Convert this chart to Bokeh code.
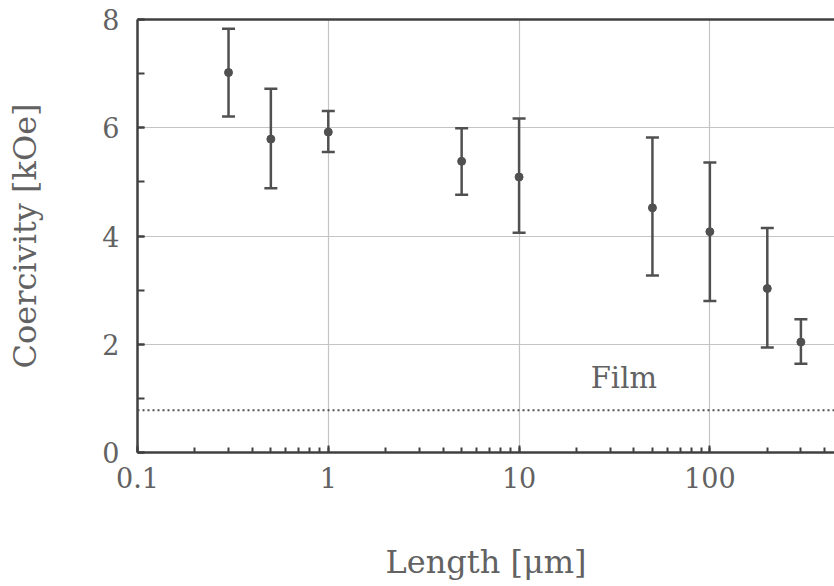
from bokeh.plotting import figure
from bokeh.models import (ColumnDataSource, Whisker, TeeHead, Span, LogAxis,
                          FixedTicker, SingleIntervalTicker, LogTicker, LogTickFormatter, Label)
from bokeh.embed import file_html
from bokeh.resources import INLINE

# ---- data ----
length_um = [0.3, 0.5, 1, 5, 10, 50, 100, 200, 300]
coercivity = [7.02, 5.79, 5.92, 5.38, 5.09, 4.52, 4.08, 3.03, 2.04]
err_upper = [7.83, 6.72, 6.31, 5.99, 6.17, 5.82, 5.36, 4.15, 2.46]
err_lower = [6.21, 4.88, 5.55, 4.76, 4.06, 3.27, 2.80, 1.94, 1.64]
film_level = 0.78
film_label = "Film"
x_label = "Length [\u03bcm]"
y_label = "Coercivity [kOe]"

FONT = "DejaVu Serif"
TEXT = "#626262"
AX = "#404040"
MARK = "#505050"

src = ColumnDataSource(dict(x=length_um, y=coercivity, up=err_upper, lo=err_lower))

p = figure(width=834, height=586, x_axis_type="log", x_range=(0.1, 450), y_range=(0, 8),
           output_backend="svg", toolbar_location=None,
           min_border_left=137, min_border_right=0, min_border_top=19, min_border_bottom=134)
p.outline_line_color = None
p.background_fill_color = "white"
p.border_fill_color = "white"

# grid
p.xgrid.grid_line_color = "#c4c4c4"
p.ygrid.grid_line_color = "#c4c4c4"
p.xgrid.grid_line_width = 1.2
p.ygrid.grid_line_width = 1.2

# axes
p.yaxis.ticker = SingleIntervalTicker(interval=2, num_minor_ticks=2)
p.xaxis.ticker = LogTicker(num_minor_ticks=10)
p.xaxis.formatter = LogTickFormatter(min_exponent=4)
for ax in (p.xaxis[0], p.yaxis[0]):
    ax.axis_line_color = AX
    ax.axis_line_width = 2.5
    ax.major_tick_line_color = AX
    ax.minor_tick_line_color = AX
    ax.major_tick_line_width = 2
    ax.minor_tick_line_width = 2
    ax.major_tick_out = 0
    ax.minor_tick_out = 0
    ax.major_label_text_font = FONT
    ax.major_label_text_font_size = "27px"
    ax.major_label_text_color = TEXT
    ax.axis_label_text_font = FONT
    ax.axis_label_text_font_size = "32px"
    ax.axis_label_text_font_style = "normal"
    ax.axis_label_text_color = TEXT
p.xaxis.major_tick_in = 7
p.xaxis.minor_tick_in = 5
p.yaxis.major_tick_in = 7
p.yaxis.minor_tick_in = 7
p.xaxis.major_label_standoff = 14
p.yaxis.major_label_standoff = 18
p.xaxis.axis_label = x_label
p.yaxis.axis_label = y_label
p.xaxis.axis_label_standoff = 52
p.yaxis.axis_label_standoff = 55

top = LogAxis(ticker=FixedTicker(ticks=[]), axis_line_color=AX, axis_line_width=2.5,
              major_tick_line_color=None, minor_tick_line_color=None,
              major_label_text_font_size="0px")
p.add_layout(top, "above")

# film level
p.add_layout(Span(location=film_level, dimension="width", line_color="#505050",
                  line_width=2, line_dash="2 3"))
p.add_layout(Label(x=35.4, y=1.37, text=film_label, text_align="center", text_baseline="middle",
                   text_font=FONT, text_font_size="29px", text_color=TEXT))

# error bars
w = Whisker(base="x", upper="up", lower="lo", source=src, line_color=MARK, line_width=2.5,
            upper_head=TeeHead(size=13, line_color=MARK, line_width=2.5),
            lower_head=TeeHead(size=13, line_color=MARK, line_width=2.5))
p.add_layout(w)
p.scatter("x", "y", source=src, size=8, color=MARK)

open("out.html", "w").write(file_html(p, INLINE))
